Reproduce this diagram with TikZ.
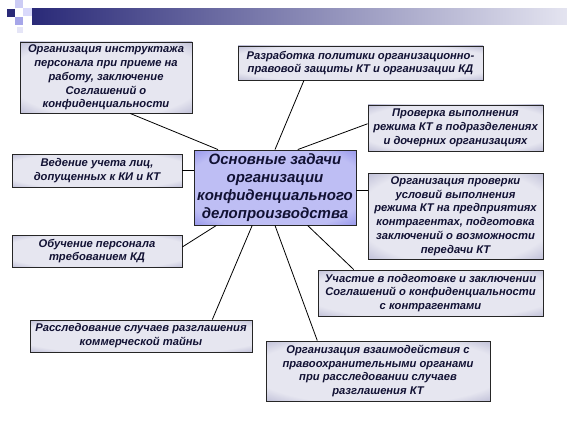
\documentclass[tikz,border=0pt]{standalone}
\usepackage{fontspec}
\setmainfont{Liberation Sans}
\usetikzlibrary{calc}
\definecolor{glowin}{HTML}{E6E6F0}
\definecolor{glowout}{HTML}{B4B4D0}
\definecolor{corein}{HTML}{BEBEF4}
\definecolor{coreout}{HTML}{8A8AE8}
\definecolor{inkblue}{HTML}{111133}
\definecolor{barleft}{HTML}{2A2A78}
\definecolor{barright}{HTML}{E4E4F0}
\pgfdeclareradialshading{boxglow}{\pgfpoint{0bp}{0bp}}{color(0bp)=(glowin); color(28bp)=(glowin); color(38bp)=(glowout); color(50bp)=(glowout)}
\pgfdeclareradialshading{coreglow}{\pgfpoint{0bp}{0bp}}{color(0bp)=(corein); color(28bp)=(corein); color(38bp)=(coreout); color(50bp)=(coreout)}
\tikzset{
	taskbox/.style={draw=black!85, line width=0.9pt, shading=boxglow, align=center, inner sep=0pt,
		font=\fontsize{11.2}{13.8}\selectfont\bfseries\itshape, text=inkblue},
	corebox/.style={draw=black!85, line width=0.9pt, shading=coreglow, align=center, inner sep=0pt,
		font=\fontsize{15}{18}\selectfont\bfseries\itshape, text=inkblue},
	link/.style={draw=black, line width=0.8pt}
}

\begin{document}
\begin{tikzpicture}[x=1pt,y=-1pt]
			\useasboundingbox (0,0) rectangle (567,425);
			%%%%% HEADER %%%%%
			\shade[left color=barleft, right color=barright] (32,9) rectangle (567,25);
			\fill[barleft] (7,9) rectangle (15,17);
			\fill[black!20!blue!20] (15,0) rectangle (23,8);
			\fill[black!10!blue!15] (23,8) rectangle (32,16);
			\fill[black!25!blue!35] (15,17) rectangle (23,25);
			\fill[black!30!blue!10] (17,27) rectangle (23,33);
			
			%%%%% START %%%%%
			\node[corebox, minimum width=162, minimum height=75] (core) at (275,187.5)
				{Основные задачи\\организации\\конфиденциального\\делопроизводства};
			
			\node[taskbox, minimum width=172, minimum height=71] (t1) at (106,77.5)
				{Организация инструктажа\\персонала при приеме на\\работу, заключение\\Соглашений о\\конфиденциальности};
			\node[taskbox, minimum width=245, minimum height=34] (t2) at (360.5,63)
				{Разработка политики организационно-\\правовой защиты КТ и организации КД};
			\node[taskbox, minimum width=175, minimum height=46] (t3) at (455.5,128)
				{Проверка выполнения\\режима КТ в подразделениях\\и дочерних организациях};
			\node[taskbox, minimum width=175, minimum height=86] (t4) at (455.5,216)
				{Организация проверки\\условий выполнения\\режима КТ на предприятиях\\контрагентах, подготовка\\заключений о возможности\\передачи КТ};
			\node[taskbox, minimum width=225, minimum height=46] (t5) at (430.5,293)
				{Участие в подготовке и заключении\\Соглашений о конфиденциальности\\с контрагентами};
			\node[taskbox, minimum width=224, minimum height=60] (t6) at (378,371)
				{Организация взаимодействия с\\правоохранительными органами\\при расследовании случаев\\разглашения КТ};
			\node[taskbox, minimum width=222, minimum height=32] (t7) at (141,336)
				{Расследование случаев разглашения\\коммерческой тайны};
			\node[taskbox, minimum width=170, minimum height=32] (t8) at (97,251)
				{Обучение персонала\\требованием КД};
			\node[taskbox, minimum width=170, minimum height=33] (t9) at (97,170.5)
				{Ведение учета лиц,\\допущенных к КИ и КТ};
			
			%%%%% LINKS %%%%%
			\draw[link] ($(t1.south west)!0.64!(t1.south east)$) -- ($(core.north west)!0.15!(core.north east)$);
			\draw[link] ($(t2.south west)!0.27!(t2.south east)$) -- ($(core.north west)!0.50!(core.north east)$);
			\draw[link] ($(t3.north west)!0.41!(t3.south west)$) -- ($(core.north west)!0.64!(core.north east)$);
			\draw[link] (t9.east) -- (t9.east -| core.west);
			\draw[link] ($(t4.north west)!0.2!(t4.south west)$) coordinate (t4in) -- (t4in -| core.east);
			\draw[link] ($(t8.north east)!0.375!(t8.south east)$) -- ($(core.south west)!0.14!(core.south east)$);
			\draw[link] ($(t7.north west)!0.82!(t7.north east)$) -- ($(core.south west)!0.36!(core.south east)$);
			\draw[link] ($(t6.north west)!0.23!(t6.north east)$) -- ($(core.south west)!0.50!(core.south east)$);
			\draw[link] ($(t5.north west)!0.16!(t5.north east)$) -- ($(core.south west)!0.70!(core.south east)$);
			%%%%% END %%%%%
		\end{tikzpicture}
\end{document}
